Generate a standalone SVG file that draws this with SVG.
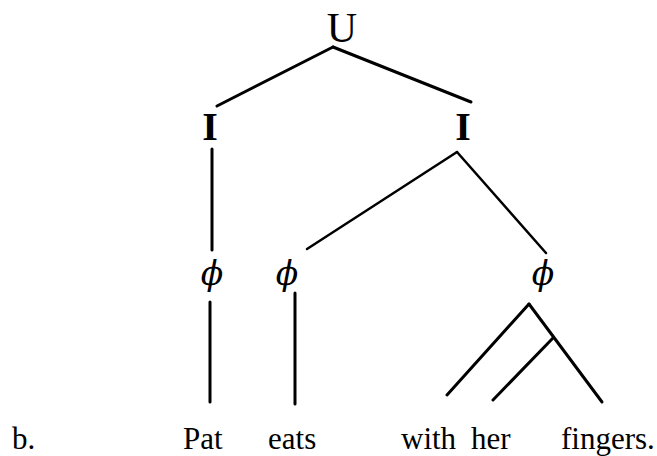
<svg xmlns="http://www.w3.org/2000/svg" width="657" height="456" viewBox="0 0 657 456">
<style>
.lbl{font-family:"Liberation Serif","Times New Roman",serif;fill:#000;text-anchor:middle}
.phi{font-family:"DejaVu Serif",serif;font-style:italic;font-size:33px;fill:#000;text-anchor:middle}
.word{font-family:"Liberation Serif","Times New Roman",serif;font-size:31px;fill:#000}
.e{stroke:#000;stroke-width:2.5;fill:none;stroke-linecap:round}
</style>
<rect width="657" height="456" fill="#fff"/>
<g id="connectors">
<line class="e" x1="333" y1="47" x2="217" y2="106" style="stroke-width:3"/>
<line class="e" x1="333" y1="47" x2="471" y2="102" style="stroke-width:3"/>
<line class="e" x1="212" y1="149" x2="212" y2="250" style="stroke-width:3"/>
<line class="e" x1="457" y1="152" x2="307" y2="249"/>
<line class="e" x1="457" y1="152" x2="546" y2="253"/>
<line class="e" x1="210" y1="302" x2="210" y2="402" style="stroke-width:3"/>
<line class="e" x1="295" y1="293" x2="295" y2="404" style="stroke-width:3"/>
<line class="e" x1="529" y1="304" x2="447" y2="395" style="stroke-width:3"/>
<line class="e" x1="529" y1="304" x2="602" y2="402" style="stroke-width:3"/>
<line class="e" x1="553" y1="338" x2="493" y2="400" style="stroke-width:3"/>
</g>
<g id="node-U"><text class="lbl" x="342" y="42" font-size="42">U</text></g>
<g id="node-I1"><text class="lbl" x="210" y="140" font-size="40" font-weight="bold">I</text></g>
<g id="node-I2"><text class="lbl" x="463" y="140" font-size="40" font-weight="bold">I</text></g>
<g id="node-phi1"><text class="phi" x="212" y="285">ϕ</text></g>
<g id="node-phi2"><text class="phi" x="287" y="285">ϕ</text></g>
<g id="node-phi3"><text class="phi" x="543" y="285">ϕ</text></g>
<g id="sentence">
<text class="word" x="12" y="449">b.</text>
<text class="word" x="183" y="449">Pat</text>
<text class="word" x="268" y="449">eats</text>
<text class="word" x="401" y="449">with</text>
<text class="word" x="471" y="449">her</text>
<text class="word" x="561" y="449">fingers.</text>
</g>
</svg>
